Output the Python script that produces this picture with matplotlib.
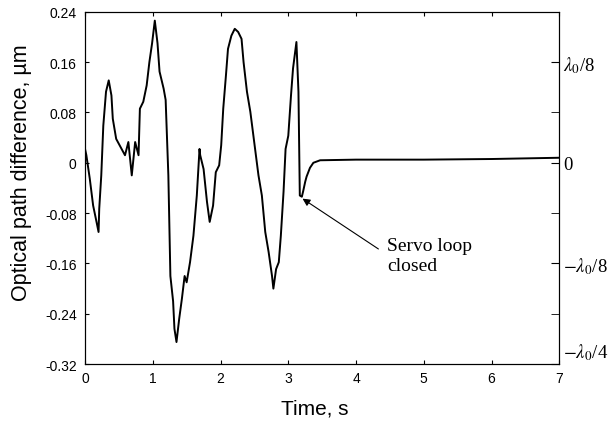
import matplotlib

matplotlib.use('Agg')
import matplotlib.pyplot as plt
from matplotlib.transforms import ScaledTranslation

# trace (time in s, OPD in um)
time_s = [0.00, 0.02, 0.07, 0.12, 0.17, 0.20, 0.21, 0.24, 0.27, 0.31, 0.35, 0.39, 0.41,
          0.46, 0.54, 0.59, 0.64, 0.69, 0.74, 0.79, 0.81, 0.86, 0.91, 0.95, 0.99, 1.03,
          1.07, 1.10, 1.16, 1.19, 1.23, 1.26, 1.30, 1.32, 1.35, 1.39, 1.43, 1.47, 1.50,
          1.55, 1.60, 1.65, 1.69, 1.70, 1.75, 1.80, 1.84, 1.89, 1.93, 1.98, 2.01, 2.04,
          2.08, 2.11, 2.16, 2.21, 2.26, 2.31, 2.34, 2.39, 2.44, 2.51, 2.56, 2.61, 2.66,
          2.71, 2.76, 2.78, 2.82, 2.86, 2.89, 2.93, 2.96, 3.00, 3.04, 3.07, 3.12, 3.15,
          3.17, 3.20, 3.22, 3.25, 3.27, 3.32, 3.37, 3.47, 4.0, 5.0, 6.0, 7.0]
opd_um = [0.022, 0.012, -0.025, -0.068, -0.094, -0.110, -0.073, -0.020, 0.059, 0.113,
          0.131, 0.107, 0.070, 0.038, 0.022, 0.012, 0.033, -0.020, 0.033, 0.012, 0.086,
          0.097, 0.123, 0.160, 0.190, 0.226, 0.190, 0.145, 0.118, 0.100, -0.020, -0.180,
          -0.220, -0.264, -0.285, -0.248, -0.216, -0.180, -0.190, -0.158, -0.116, -0.052,
          0.022, 0.012, -0.010, -0.062, -0.094, -0.068, -0.015, -0.004, 0.028, 0.086,
          0.139, 0.181, 0.202, 0.213, 0.208, 0.197, 0.160, 0.113, 0.081, 0.022, -0.020,
          -0.052, -0.110, -0.142, -0.180, -0.200, -0.169, -0.158, -0.116, -0.046, 0.022,
          0.043, 0.107, 0.150, 0.192, 0.113, -0.052, -0.054, -0.045, -0.030, -0.022,
          -0.008, 0.000, 0.004, 0.005, 0.005, 0.006, 0.008]

left_ticks = [0.24, 0.16, 0.08, 0, -0.08, -0.16, -0.24, -0.32]
left_labels = ['0.24', '0.16', '0.08', '0', '-0.08', '-0.16', '-0.24', '-0.32']
right_ticks = [0.16, 0, -0.16, -0.32]
right_labels = [r'$\lambda_0$/8', '0', r'$-\lambda_0$/8', r'$-\lambda_0$/4']
right_minor = [0.08, -0.08, -0.24]

plt.rcParams['font.family'] = 'Liberation Sans'
plt.rcParams['mathtext.fontset'] = 'stix'

fig = plt.figure(figsize=(6.16, 4.27), dpi=100)
ax = fig.add_axes([0.138, 0.145, 0.77, 0.825])

ax.plot(time_s, opd_um, color='black', lw=1.4)
ax.set_xlim(0, 7)
ax.set_ylim(-0.32, 0.24)
ax.set_xticks(range(8))
ax.set_yticks(left_ticks)
ax.set_yticklabels(left_labels)
ax.tick_params(direction='in', length=3, labelsize=10, top=True, right=False)
ax.tick_params(axis='x', pad=5)
ax.tick_params(axis='y', pad=6)
for s in ax.spines.values():
    s.set_linewidth(0.8)

ax.set_xlabel('Time, s', fontsize=15)
ax.set_ylabel('Optical path difference, µm', fontsize=15.5)
ax.xaxis.set_label_coords(0.484, -0.097)
ax.yaxis.set_label_coords(-0.112, 0.545)

ax2 = ax.twinx()
ax2.set_ylim(-0.32, 0.24)
ax2.set_yticks(right_ticks)
ax2.set_yticklabels(right_labels, family='Liberation Serif', fontsize=13.5)
ax2.set_yticks(right_minor, minor=True)
ax2.tick_params(which='both', direction='in', length=6, pad=3)
# bottom label sits a bit above its tick in the original
lab = ax2.get_yticklabels()[-1]
lab.set_transform(lab.get_transform() + ScaledTranslation(0, 0.15, fig.dpi_scale_trans))

ax.annotate('', xy=(3.21, -0.057), xytext=(4.33, -0.137),
            arrowprops=dict(arrowstyle='-|>', color='black', lw=0.8,
                            shrinkA=0, shrinkB=0, mutation_scale=11))
ax.text(4.46, -0.147, 'Servo loop\nclosed', fontsize=14, family='Liberation Serif',
        va='center', ha='left', linespacing=1.2)

fig.savefig('out.png', dpi=100)
